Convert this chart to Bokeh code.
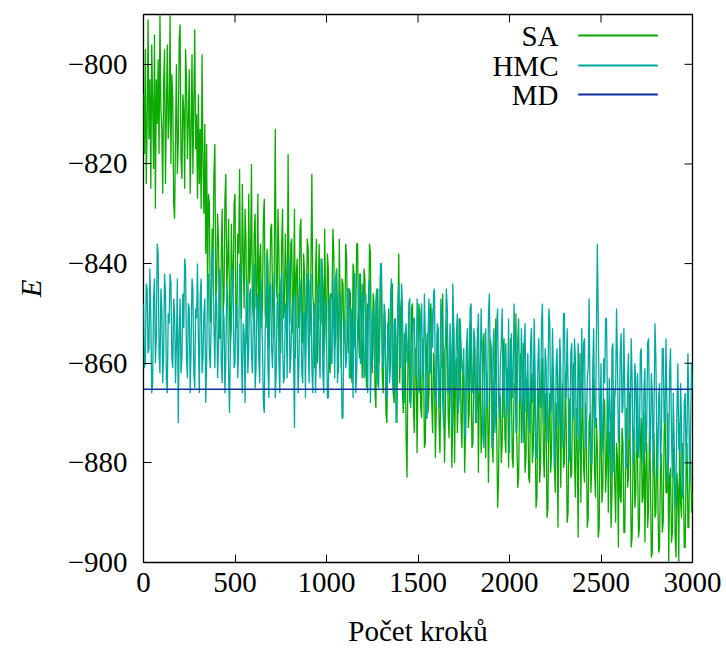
from bokeh.plotting import figure
from bokeh.models import FixedTicker, Label, BoxAnnotation, Range1d
from bokeh.embed import file_html
from bokeh.resources import INLINE

# ---- data (one value every 5 steps) ----
steps = list(range(0, 3001, 5))

sa_energy = [
    # 0-295
    -806, -818, -797, -824, -812, -791, -815, -803, -825, -796,
    -808, -821, -794, -829, -803, -812, -799, -818, -790, -809,
    -813, -826, -804, -797, -824, -810, -796, -815, -811, -790,
    -820, -802, -807, -828, -831, -814, -800, -822, -816, -795,
    -792, -819, -823, -806, -809, -825, -797, -803, -819, -811,
    -801, -826, -814, -798, -822, -808, -793, -817, -810, -827,
    # 300-595
    -806, -824, -813, -829, -798, -820, -830, -812, -838, -816,
    -846, -826, -828, -851, -852, -833, -839, -822, -816, -847,
    -844, -830, -836, -855, -855, -838, -829, -850, -847, -827,
    -822, -845, -840, -831, -850, -858, -832, -843, -845, -828,
    -826, -852, -853, -834, -838, -821, -843, -851, -824, -838,
    -849, -829, -835, -856, -852, -826, -844, -839, -820, -848,
    # 600-895
    -851, -834, -830, -849, -844, -826, -857, -839, -836, -853,
    -848, -831, -827, -850, -853, -837, -840, -857, -846, -833,
    -832, -847, -855, -838, -813, -844, -847, -829, -838, -856,
    -858, -836, -829, -851, -849, -834, -843, -858, -818, -841,
    -852, -836, -835, -854, -846, -829, -859, -842, -839, -853,
    -850, -833, -831, -849, -856, -838, -842, -859, -848, -835,
    # 900-1195
    -837, -855, -854, -840, -822, -846, -849, -861, -842, -835,
    -860, -845, -836, -851, -852, -839, -845, -858, -833, -848,
    -857, -838, -841, -860, -862, -846, -847, -833, -838, -857,
    -855, -841, -850, -862, -835, -849, -861, -843, -844, -856,
    -853, -836, -839, -855, -858, -845, -846, -862, -864, -840,
    -842, -857, -851, -836, -836, -854, -859, -842, -848, -863,
    # 1200-1495
    -856, -841, -843, -862, -865, -848, -851, -836, -838, -858,
    -862, -846, -848, -866, -869, -851, -845, -860, -857, -843,
    -841, -863, -866, -850, -853, -870, -872, -855, -849, -863,
    -860, -846, -844, -866, -868, -851, -855, -872, -850, -838,
    -864, -849, -847, -866, -870, -854, -856, -875, -883, -860,
    -852, -868, -866, -849, -848, -869, -874, -857, -859, -878,
    # 1500-1795
    -863, -848, -850, -869, -871, -855, -857, -877, -876, -860,
    -854, -870, -866, -849, -848, -868, -874, -858, -861, -879,
    -869, -854, -853, -872, -878, -861, -860, -846, -867, -880,
    -869, -854, -851, -871, -875, -859, -862, -881, -871, -853,
    -880, -862, -859, -874, -868, -851, -852, -871, -877, -861,
    -864, -882, -873, -857, -855, -873, -870, -852, -862, -877,
    # 1800-2095
    -876, -860, -857, -872, -869, -853, -882, -866, -861, -878,
    -874, -856, -854, -873, -879, -862, -866, -884, -871, -855,
    -857, -876, -880, -863, -864, -851, -873, -889, -884, -866,
    -867, -880, -876, -858, -855, -875, -878, -861, -862, -881,
    -869, -855, -862, -879, -881, -864, -866, -850, -875, -885,
    -883, -867, -858, -876, -870, -856, -864, -882, -879, -863,
    # 2100-2395
    -868, -883, -884, -865, -862, -880, -877, -860, -871, -889,
    -887, -868, -865, -884, -880, -862, -859, -878, -883, -866,
    -872, -891, -889, -871, -866, -882, -878, -861, -861, -880,
    -886, -868, -874, -893, -869, -857, -885, -870, -864, -881,
    -880, -862, -873, -892, -890, -872, -867, -883, -882, -864,
    -860, -879, -887, -869, -876, -895, -871, -858, -888, -872,
    # 2400-2695
    -866, -881, -884, -868, -875, -893, -891, -872, -870, -886,
    -880, -864, -863, -882, -887, -871, -877, -895, -893, -874,
    -872, -888, -885, -867, -868, -886, -881, -865, -890, -874,
    -874, -893, -886, -869, -865, -884, -892, -876, -879, -897,
    -871, -887, -888, -873, -876, -894, -894, -877, -869, -885,
    -883, -866, -878, -897, -895, -880, -873, -889, -886, -870,
    # 2700-2995
    -880, -895, -893, -876, -871, -888, -887, -870, -896, -881,
    -876, -893, -889, -872, -882, -899, -898, -880, -874, -891,
    -890, -873, -884, -898, -897, -881, -878, -894, -892, -874,
    -869, -886, -886, -870, -900, -883, -881, -896, -894, -877,
    -877, -895, -899, -882, -885, -900, -872, -888, -891, -876,
    -883, -897, -897, -881, -876, -893, -893, -874, -880, -890,
    # 3000
    -886,
]

hmc_energy = [
    # 0-295
    -848, -861, -860, -844, -845, -858, -857, -841, -851, -866,
    -864, -847, -843, -860, -855, -836, -838, -858, -862, -845,
    -849, -864, -858, -842, -846, -863, -866, -850, -852, -842,
    -844, -859, -861, -847, -850, -864, -856, -843, -872, -855,
    -847, -862, -859, -846, -853, -839, -841, -859, -863, -848,
    -849, -866, -857, -843, -845, -862, -865, -849, -851, -840,
    # 300-595
    -855, -866, -846, -843, -862, -859, -850, -847, -868, -860,
    -844, -842, -858, -861, -852, -838, -837, -853, -861, -846,
    -848, -863, -856, -841, -843, -860, -864, -849, -851, -866,
    -859, -844, -847, -862, -870, -856, -853, -841, -845, -861,
    -860, -848, -849, -863, -857, -840, -842, -859, -866, -852,
    -854, -868, -850, -843, -862, -857, -846, -845, -858, -862,
    # 600-895
    -852, -840, -865, -861, -847, -846, -859, -864, -843, -850,
    -856, -868, -870, -853, -850, -838, -861, -867, -845, -844,
    -857, -861, -853, -842, -867, -862, -848, -846, -860, -866,
    -844, -842, -855, -864, -863, -848, -849, -863, -841, -839,
    -862, -859, -851, -847, -858, -873, -846, -852, -853, -866,
    -859, -843, -847, -862, -864, -850, -850, -867, -845, -842,
    # 900-1195
    -856, -864, -844, -842, -861, -866, -852, -848, -866, -858,
    -848, -844, -858, -863, -839, -842, -862, -866, -850, -847,
    -855, -867, -867, -849, -846, -860, -860, -843, -853, -863,
    -843, -841, -864, -859, -849, -846, -857, -871, -871, -853,
    -851, -861, -859, -845, -845, -863, -863, -849, -854, -867,
    -848, -842, -866, -862, -852, -849, -842, -860, -860, -844,
    # 1200-1495
    -849, -863, -862, -846, -855, -866, -845, -843, -868, -859,
    -851, -849, -858, -862, -847, -845, -864, -865, -853, -840,
    -840, -858, -861, -848, -850, -867, -867, -852, -856, -864,
    -846, -843, -863, -866, -852, -851, -872, -859, -849, -844,
    -858, -861, -844, -848, -865, -868, -854, -852, -860, -858,
    -848, -847, -869, -864, -855, -851, -851, -862, -863, -847,
    # 1500-1795
    -852, -865, -866, -851, -848, -863, -860, -846, -855, -871,
    -871, -854, -847, -862, -862, -849, -857, -846, -845, -866,
    -868, -852, -853, -869, -863, -847, -850, -868, -873, -858,
    -856, -845, -849, -866, -866, -852, -858, -873, -844, -852,
    -864, -865, -854, -850, -870, -867, -851, -856, -861, -862,
    -857, -874, -875, -857, -853, -866, -862, -849, -848, -865,
    # 1800-2095
    -866, -853, -855, -871, -872, -856, -850, -866, -863, -849,
    -858, -874, -877, -859, -853, -869, -868, -850, -846, -861,
    -862, -877, -857, -853, -874, -870, -852, -849, -867, -871,
    -860, -856, -849, -864, -871, -858, -856, -870, -865, -851,
    -878, -862, -854, -867, -863, -848, -859, -874, -873, -855,
    -851, -867, -868, -853, -861, -876, -856, -852, -870, -866,
    # 2100-2395
    -858, -872, -874, -856, -853, -868, -866, -851, -862, -879,
    -879, -860, -855, -868, -869, -852, -848, -866, -872, -857,
    -860, -876, -865, -849, -852, -870, -868, -853, -863, -881,
    -879, -860, -857, -873, -870, -855, -861, -877, -875, -850,
    -850, -867, -867, -853, -864, -880, -878, -858, -856, -871,
    -871, -855, -859, -875, -874, -856, -862, -878, -869, -853,
    # 2400-2695
    -869, -856, -855, -875, -877, -863, -861, -847, -866, -880,
    -880, -861, -853, -871, -873, -855, -836, -851, -868, -874,
    -860, -878, -875, -859, -864, -851, -851, -867, -879, -863,
    -870, -883, -857, -856, -882, -867, -865, -849, -860, -876,
    -874, -858, -854, -870, -869, -853, -866, -881, -881, -864,
    -858, -875, -872, -855, -863, -880, -877, -860, -863, -878,
    # 2700-2995
    -862, -879, -876, -858, -857, -872, -880, -865, -861, -878,
    -873, -856, -855, -872, -878, -862, -866, -882, -869, -852,
    -859, -876, -883, -867, -864, -881, -874, -857, -857, -872,
    -871, -855, -868, -884, -879, -862, -857, -874, -883, -866,
    -876, -889, -885, -869, -860, -877, -878, -864, -872, -887,
    -886, -868, -866, -880, -874, -858, -869, -884, -872, -860,
    # 3000
    -865,
]

assert len(sa_energy) == len(steps), len(sa_energy)
assert len(hmc_energy) == len(steps), len(hmc_energy)

md_steps = [0, 3000]
md_energy = [-865.2, -865.2]

X_MIN, X_MAX = 0, 3000
Y_MIN, Y_MAX = -900, -790
x_ticks = [0, 500, 1000, 1500, 2000, 2500, 3000]
y_ticks = [-900, -880, -860, -840, -820, -800]
y_tick_labels = ["\u2212900", "\u2212880", "\u2212860", "\u2212840", "\u2212820", "\u2212800"]

series_names = ["SA", "HMC", "MD"]
series_colors = ["#0aaa00", "#00aa9e", "#12309e"]

FONT = "Liberation Serif"
FS = "29px"
FRAME = 549
TICK = 8

p = figure(width=726, height=649, x_range=Range1d(X_MIN, X_MAX), y_range=Range1d(Y_MIN, Y_MAX),
           output_backend="svg", toolbar_location=None,
           min_border_left=143, min_border_right=34, min_border_top=14, min_border_bottom=86,
           x_axis_label="Počet kroků", y_axis_label="E")
p.background_fill_color = "white"
p.border_fill_color = "white"
p.xgrid.visible = False
p.ygrid.visible = False
p.outline_line_color = "black"
p.outline_line_width = 1.3

p.line(steps, sa_energy, line_color=series_colors[0], line_width=1.3)
p.line(steps, hmc_energy, line_color=series_colors[1], line_width=1.3)
p.line(md_steps, md_energy, line_color=series_colors[2], line_width=1.5)

# mirrored inward ticks on top and right (gnuplot style)
ty = (Y_MAX - Y_MIN) * TICK / FRAME
tx = (X_MAX - X_MIN) * TICK / FRAME
p.segment(x0=x_ticks, x1=x_ticks, y0=[Y_MAX] * len(x_ticks), y1=[Y_MAX - ty] * len(x_ticks),
          line_color="black", line_width=1)
p.segment(x0=[X_MAX] * len(y_ticks), x1=[X_MAX - tx] * len(y_ticks), y0=y_ticks, y1=y_ticks,
          line_color="black", line_width=1)

for ax in (p.xaxis[0], p.yaxis[0]):
    ax.axis_line_color = None
    ax.major_tick_in = TICK
    ax.major_tick_out = 0
    ax.minor_tick_in = 0
    ax.minor_tick_out = 0
    ax.major_tick_line_color = "black"
    ax.major_tick_line_width = 1
    ax.major_label_text_font = FONT
    ax.major_label_text_font_size = FS
    ax.major_label_text_color = "black"
    ax.axis_label_text_font = FONT
    ax.axis_label_text_font_size = FS
    ax.axis_label_text_color = "black"

xa = p.xaxis[0]
xa.ticker = FixedTicker(ticks=x_ticks)
xa.major_label_standoff = 10
xa.axis_label_text_font_style = "normal"
xa.axis_label_standoff = 20

ya = p.yaxis[0]
ya.ticker = FixedTicker(ticks=y_ticks)
ya.major_label_overrides = {t: l for t, l in zip(y_ticks, y_tick_labels)}
ya.major_label_standoff = 16
ya.axis_label_text_font_style = "italic"
ya.axis_label_standoff = 18

# legend (text right-aligned, sample line to the right)
leg_y = [527, 497, 468]
for name, color, yy in zip(series_names, series_colors, leg_y):
    p.add_layout(Label(x=415, y=yy, x_units="screen", y_units="screen", text=name,
                       text_align="right", text_baseline="middle",
                       text_font=FONT, text_font_size=FS, text_color="black"))
    p.add_layout(BoxAnnotation(left=435, right=514, bottom=yy - 0.75, top=yy + 0.75,
                               left_units="screen", right_units="screen",
                               bottom_units="screen", top_units="screen",
                               fill_color=color, fill_alpha=1.0, line_color=color,
                               line_width=0.5, line_alpha=1.0))

open("out.html", "w").write(file_html(p, INLINE))
